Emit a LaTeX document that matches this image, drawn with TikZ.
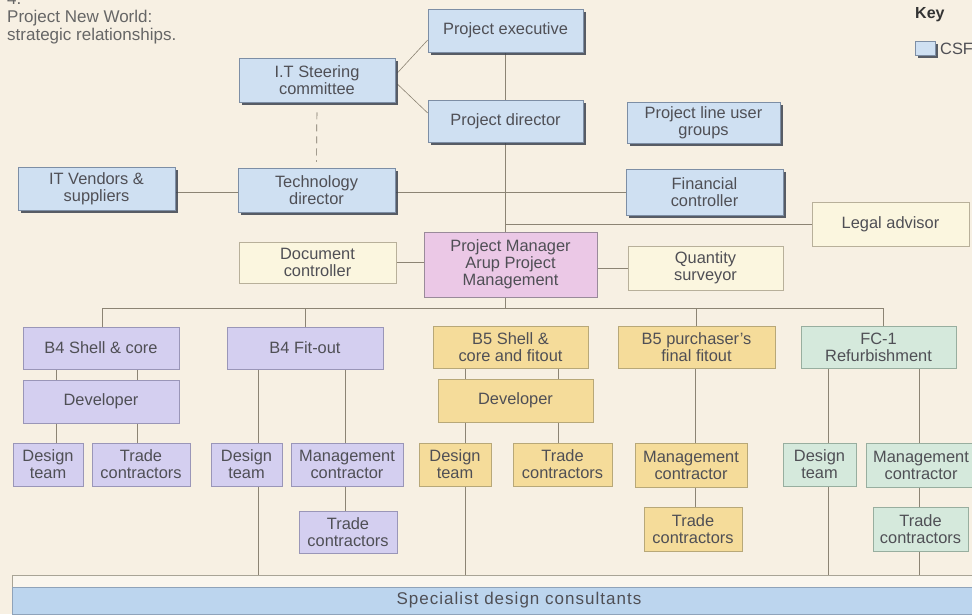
\documentclass[tikz,border=0pt]{standalone}
\usepackage{fontspec}
\setmainfont{Liberation Sans}
\newfontfamily\spacedfont[LetterSpace=6]{Liberation Sans}
\usetikzlibrary{shadows,calc}
\definecolor{bgcol}{HTML}{F7F0E3}
\definecolor{bluefill}{HTML}{CFE0F2}
\definecolor{blueline}{HTML}{7D8EA5}
\definecolor{shadowcol}{HTML}{3C4350}
\definecolor{creamfill}{HTML}{FBF6DF}
\definecolor{creamline}{HTML}{B8B09A}
\definecolor{pinkfill}{HTML}{EBC8E6}
\definecolor{pinkline}{HTML}{9A8A9A}
\definecolor{lavfill}{HTML}{D4CFF0}
\definecolor{lavline}{HTML}{9A96B8}
\definecolor{yelfill}{HTML}{F5DC9A}
\definecolor{yelline}{HTML}{B8A878}
\definecolor{grnfill}{HTML}{D5E9DC}
\definecolor{grnline}{HTML}{98AE9F}
\definecolor{linecol}{HTML}{8C8474}
\definecolor{txtcol}{HTML}{4F4F55}
\definecolor{titlecol}{HTML}{666666}
\definecolor{specfill}{HTML}{BCD5EE}
\definecolor{specline}{HTML}{8FA3BA}
\definecolor{framefill}{HTML}{FAF6EE}
\definecolor{frameline}{HTML}{A8A496}
\pgfdeclarelayer{bg}
\pgfdeclarelayer{lines}
\pgfsetlayers{bg,lines,main}
\begin{document}
\begin{tikzpicture}[x=1pt,y=-1pt,
  font=\fontsize{16.4}{17}\selectfont,
  base/.style={align=center,text=txtcol,inner sep=0pt,line width=0.6pt},
  bluebox/.style={base,draw=blueline,fill=bluefill,
    drop shadow={shadow xshift=2.5pt,shadow yshift=-2.5pt,fill=shadowcol,opacity=0.85}},
  creambox/.style={base,draw=creamline,fill=creamfill},
  pinkbox/.style={base,draw=pinkline,fill=pinkfill},
  lavbox/.style={base,draw=lavline,fill=lavfill},
  yelbox/.style={base,draw=yelline,fill=yelfill},
  grnbox/.style={base,draw=grnline,fill=grnfill},
  conn/.style={draw=linecol,line width=0.6pt},
  dashline/.style={draw=linecol!85!black,line width=0.7pt,dash pattern=on 7pt off 5pt}]
\useasboundingbox (0,0) rectangle (972,614);
\begin{pgfonlayer}{bg}
\fill[bgcol] (0,0) rectangle (972,614);
\end{pgfonlayer}

% title and key
\node[anchor=base west,text=titlecol,inner sep=0pt,font=\fontsize{17}{18}\selectfont] (num) at (7,4) {4.};
\node[anchor=base west,text=titlecol,inner sep=0pt,font=\fontsize{17}{18}\selectfont] (title1) at (7,22) {Project New World:};
\node[anchor=base west,text=titlecol,inner sep=0pt,font=\fontsize{17}{18}\selectfont] (title2) at (7,40) {strategic relationships.};
\node[anchor=west,text=black!80,inner sep=0pt,font=\fontsize{16}{17}\bfseries] (keylbl) at (915,15) {Key};
\node[bluebox,minimum width=20pt,minimum height=14pt] (keybox) at (925,48) {};
\node[anchor=west,text=txtcol,inner sep=0pt] (keytxt) at (940,49) {CSFB};

% upper hierarchy
\node[bluebox,minimum width=155pt,minimum height=43pt] (pe) at (505.5,30.5) {Project executive};
\node[bluebox,minimum width=156pt,minimum height=44pt] (it) at (317,80) {I.T Steering\\committee};
\node[bluebox,minimum width=155pt,minimum height=42pt] (pd) at (505.5,121) {Project director};
\node[bluebox,minimum width=153pt,minimum height=41pt] (plug) at (703.5,122.5) {Project line user\\groups};
\node[bluebox,minimum width=157pt,minimum height=43pt] (itv) at (96.5,188.5) {IT Vendors \&\\suppliers};
\node[bluebox,minimum width=157pt,minimum height=44pt] (td) at (316.5,190) {Technology\\director};
\node[bluebox,minimum width=157pt,minimum height=46pt] (fc) at (704.5,192.5) {Financial\\controller};
\node[creambox,minimum width=157pt,minimum height=44pt] (legal) at (890.5,224) {Legal advisor};
\node[pinkbox,minimum width=173pt,minimum height=65pt] (pm) at (510.5,264.5) {Project Manager\\Arup Project\\Management};
\node[creambox,minimum width=157pt,minimum height=41pt] (doc) at (317.5,262.5) {Document\\controller};
\node[creambox,minimum width=155pt,minimum height=44pt] (qs) at (705.5,268) {Quantity\\surveyor};

% row 2
\node[lavbox,minimum width=156pt,minimum height=42pt] (b4s) at (101,348) {B4 Shell \& core};
\node[lavbox,minimum width=156pt,minimum height=42pt] (b4f) at (305,348) {B4 Fit-out};
\node[yelbox,minimum width=155pt,minimum height=42pt] (b5s) at (510.5,347) {B5 Shell \&\\core and fitout};
\node[yelbox,minimum width=157pt,minimum height=42pt] (b5p) at (696.5,347.5) {B5 purchaser's\\final fitout};
\node[grnbox,minimum width=155pt,minimum height=42pt] (fc1) at (878.5,347.5) {FC-1\\Refurbishment};

% row 3
\node[lavbox,minimum width=156pt,minimum height=43pt] (b4dev) at (101,401.5) {Developer};
\node[yelbox,minimum width=155pt,minimum height=43pt] (b5dev) at (515.5,400.5) {Developer};

% row 4
\node[lavbox,minimum width=70pt,minimum height=43pt] (b4dt) at (48,464.5) {Design\\team};
\node[lavbox,minimum width=98pt,minimum height=43pt] (b4tc) at (141,464.5) {Trade\\contractors};
\node[lavbox,minimum width=71pt,minimum height=43pt] (b4fdt) at (246.5,464.5) {Design\\team};
\node[lavbox,minimum width=112pt,minimum height=43pt] (b4fmc) at (347,464.5) {Management\\contractor};
\node[yelbox,minimum width=72pt,minimum height=43pt] (b5dt) at (455,464.5) {Design\\team};
\node[yelbox,minimum width=99pt,minimum height=43pt] (b5tc) at (562.5,464.5) {Trade\\contractors};
\node[yelbox,minimum width=112pt,minimum height=44pt] (b5pmc) at (691,465) {Management\\contractor};
\node[grnbox,minimum width=73pt,minimum height=43pt] (fcdt) at (819.5,464.5) {Design\\team};
\node[grnbox,minimum width=110pt,minimum height=44pt] (fcmc) at (921,465) {Management\\contractor};

% row 5
\node[lavbox,minimum width=98pt,minimum height=42pt] (b4ftc) at (348,532) {Trade\\contractors};
\node[yelbox,minimum width=98pt,minimum height=44pt] (b5ptc) at (693,529) {Trade\\contractors};
\node[grnbox,minimum width=95pt,minimum height=44pt] (fctc) at (920.5,529) {Trade\\contractors};

% specialist band
\node[draw=frameline,fill=framefill,line width=0.6pt,minimum width=1014pt,minimum height=65pt,inner sep=0pt] (specframe) at (519,607.5) {};
\node[draw=specline,fill=specfill,line width=0.6pt,minimum width=1014pt,minimum height=27pt,inner sep=0pt,text=txtcol,font=\spacedfont\fontsize{17}{18}\selectfont] (spec) at (519,600.5) {Specialist design consultants};

\coordinate (busL) at (102,308);
\coordinate (busR) at (883,308);

\begin{pgfonlayer}{lines}
\draw[conn] (pe) -- (pd);
\draw[conn] ($(it.east)+(2,-7)$) -- ($(pe.west)+(0,9.5)$);
\draw[conn] ($(it.east)+(2,4)$) -- ($(pd.west)+(0,-8)$);
\draw[dashline,shorten <=10pt,shorten >=6pt] (it.south) -- (td.north);
\draw[conn] (itv.east |- fc.west) -- (fc.west);
\draw[conn] (pd.south) -- (pd.south |- busL);
\draw[conn] (pd.south |- legal.west) -- (legal.west);
\draw[conn] (doc.east) -- (doc.east -| pm.west);
\draw[conn] (qs.west) -- (qs.west -| pm.east);
\draw[conn] (busL) -- (busR);
\draw[conn] (busL) -- (busL |- b4s.north);
\draw[conn] (b4f.north) -- (b4f.north |- busL);
\draw[conn] (b5p.north) -- (b5p.north |- busL);
\draw[conn] (busR) -- (busR |- fc1.north);
\draw[conn] ($(b4s.south)+(-45,0)$) -- ($(b4dt.north)+(8,0)$);
\draw[conn] ($(b4s.south)+(36,0)$) -- ($(b4tc.north)+(-4,0)$);
\draw[conn] ($(b4f.south)+(-47,0)$) -- ($(specframe.north -| b4fdt.north)+(11.5,0)$);
\draw[conn] ($(b4f.south)+(40,0)$) -- ($(b4ftc.north)+(-3,0)$);
\draw[conn] ($(b5s.south)+(-45.5,0)$) -- ($(specframe.north -| b5dt.north)+(10,0)$);
\draw[conn] ($(b5s.south)+(47.5,0)$) -- ($(b5tc.north)+(-4.5,0)$);
\draw[conn] ($(b5p.south)+(-1.5,0)$) -- ($(b5ptc.north)+(2,0)$);
\draw[conn] ($(fc1.south)+(-50.5,0)$) -- ($(specframe.north -| fcdt.north)+(8.5,0)$);
\draw[conn] ($(fc1.south)+(40.5,0)$) -- ($(specframe.north -| fctc.north)+(-1.5,0)$);
\end{pgfonlayer}
\end{tikzpicture}
\end{document}
